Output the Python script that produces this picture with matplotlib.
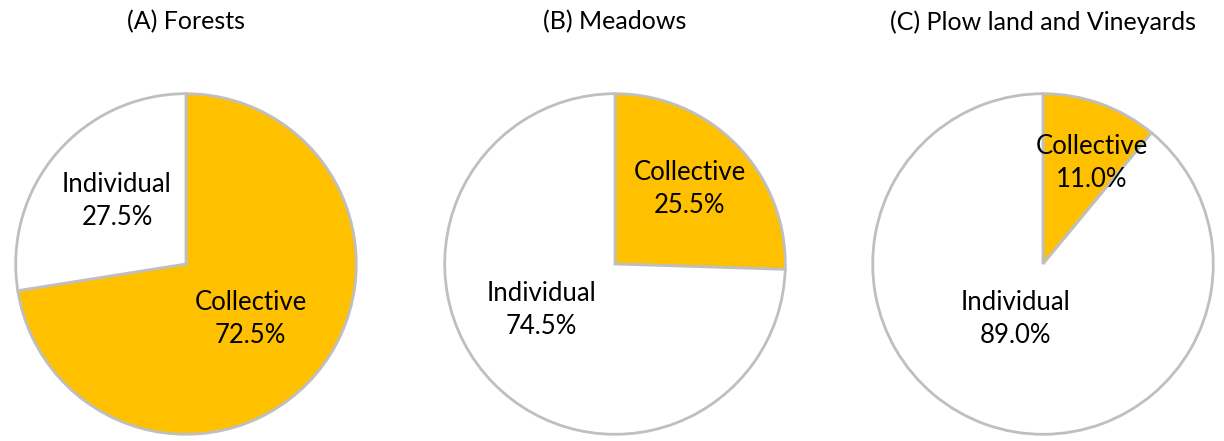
import matplotlib.pyplot as plt
import numpy as np

plt.rcParams['font.family'] = ['Lato', 'DejaVu Sans']

titles = ['(A) Forests', '(B) Meadows', '(C) Plow land and Vineyards']
categories = ['Collective', 'Individual']
collective = [72.5, 25.5, 11.0]
individual = [27.5, 74.5, 89.0]
colors = ['#FFC000', 'white']
# label distance from the centre (fraction of radius), per slice
label_dist = [[0.50, 0.55], [0.62, 0.51], [0.66, 0.36]]
label_shift = [[0, -2], [1, -12], [-6, -7]]  # small angle tweaks (deg)

fig = plt.figure(figsize=(12.24, 4.41), dpi=100)
W, H = 1224, 441
R = 172
centres = [186, 615, 1043]
cy = 264

for i in range(3):
    ax = fig.add_axes([(centres[i] - R) / W, (H - cy - R) / H, 2 * R / W, 2 * R / H])
    vals = [collective[i], individual[i]]
    ax.pie(vals, colors=colors, startangle=90, counterclock=False, radius=1,
           wedgeprops=dict(edgecolor='#BFBFBF', linewidth=2))
    start = 90
    for j, v in enumerate(vals):
        mid = start - v * 3.6 / 2 + label_shift[i][j]
        start -= v * 3.6
        d = label_dist[i][j]
        x = d * np.cos(np.radians(mid))
        y = d * np.sin(np.radians(mid))
        ax.text(x, y, '%s\n%.1f%%' % (categories[j], v), ha='center', va='center',
                fontsize=18.5, linespacing=1.4)
    ax.set_xlim(-1.01, 1.01)
    ax.set_ylim(-1.01, 1.01)
    ax.set_aspect('equal')
    ax.axis('off')
    fig.text(centres[i] / W, 1 - 22 / H, titles[i], ha='center', va='center', fontsize=18)

plt.savefig('out.png', dpi=100)
